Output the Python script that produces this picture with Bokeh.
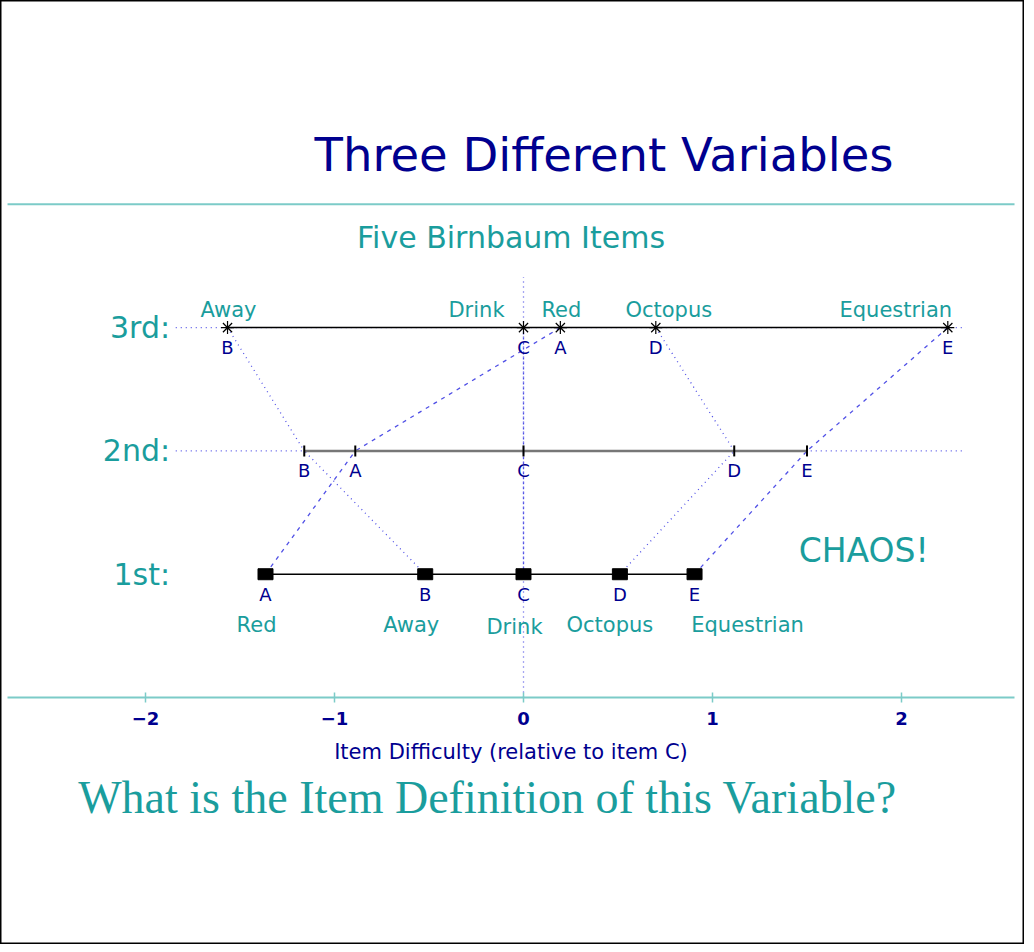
from bokeh.plotting import figure
from bokeh.models import Range1d, LinearAxis, FixedTicker, Label, ColumnDataSource
from bokeh.core.properties import value
from bokeh.embed import file_html
from bokeh.resources import INLINE

# ---------------- data ----------------
items = ["A", "B", "C", "D", "E"]
words = ["Red", "Away", "Drink", "Octopus", "Equestrian"]
first = [-1.365, -0.52, 0.0, 0.51, 0.905]
second = [-0.89, -1.16, 0.0, 1.115, 1.50]
third = [0.195, -1.566, 0.0, 0.70, 2.245]
row_names = ["1st:", "2nd:", "3rd:"]
row_levels = [1, 2, 3]
tick_values = [-2, -1, 0, 1, 2]
tick_labels = ["\u22122", "\u22121", "0", "1", "2"]

# ---------------- styles / layout ----------------
NAVY = "#00008f"
TEAL = "#1a9d9d"
RULE = "#7ccbc8"
BLUE = "#5050e6"
SANS = "DejaVu Sans"
SERIF = "Liberation Serif"
dash_style = {"A": "4 5", "B": "1 4", "C": "2 3", "D": "1 4", "E": "4 5"}
word_dx_third = [1, 1, -47, 13, -52]
word_dx_first = [-9, -14, -9, -10, 53]
word_dy_first = [51, 51, 53, 51, 51]
RULE_X = (-2.73, 2.598)
EXT_X = (-1.84, 2.34)

p = figure(width=1024, height=944, output_backend="svg", toolbar_location=None,
           x_range=Range1d(-2.7672, 2.6508), y_range=Range1d(-2.003, 5.653),
           x_axis_location=None, y_axis_location=None, min_border=0)
p.grid.grid_line_color = None
p.outline_line_color = "black"
p.outline_line_width = 2
p.background_fill_color = "white"
p.border_fill_color = "white"

# top rule
p.segment(x0=[RULE_X[0]], y0=[4], x1=[RULE_X[1]], y1=[4], line_color=RULE, line_width=2)

# dotted extensions of rows 2 and 3
p.segment(x0=[EXT_X[0], EXT_X[0]], y0=[2, 3], x1=[EXT_X[1], EXT_X[1]], y1=[2, 3],
          line_color=BLUE, line_width=1.3, line_dash="1 4")

# vertical reference line at item C
p.segment(x0=[0], y0=[0], x1=[0], y1=[3.41], line_color=BLUE, line_width=1.3, line_dash="1 4")

# connecting lines
for i, it in enumerate(items):
    p.segment(x0=[third[i]], y0=[3], x1=[second[i]], y1=[2],
              line_color=BLUE, line_width=1.3, line_dash=dash_style[it])
    p.segment(x0=[first[i]], y0=[1], x1=[second[i]], y1=[2],
              line_color=BLUE, line_width=1.3, line_dash=dash_style[it])

# row lines
p.line(x=sorted(third), y=[3] * 5, line_color="black", line_width=1.5)
p.line(x=sorted(second), y=[2] * 5, line_color="#777777", line_width=2.5)
p.line(x=sorted(first), y=[1] * 5, line_color="black", line_width=1.5)

# markers
p.scatter(x=third, y=[3] * 5, marker="asterisk", size=13, line_color="black", line_width=1.2)
p.scatter(x=second, y=[2] * 5, marker="dash", angle=1.5708, size=11, line_color="black", line_width=2)
p.rect(x=first, y=[1] * 5, width=15, height=11, width_units="screen", height_units="screen",
       fill_color="black", line_color="black")

# item letters
for vals, lev in ((third, 3), (second, 2), (first, 1)):
    p.text(x=vals, y=[lev] * 5, text=items, y_offset=20, text_align="center",
           text_baseline="middle", text_color=NAVY, text_font=value(SANS), text_font_size="18px")

# word labels
src3 = ColumnDataSource(dict(x=third, y=[3] * 5, t=words, dx=word_dx_third, dy=[-18] * 5))
p.text(x="x", y="y", text="t", x_offset="dx", y_offset="dy", source=src3, text_align="center",
       text_baseline="middle", text_color=TEAL, text_font=value(SANS), text_font_size="21px")
src1 = ColumnDataSource(dict(x=first, y=[1] * 5, t=words, dx=word_dx_first, dy=word_dy_first))
p.text(x="x", y="y", text="t", x_offset="dx", y_offset="dy", source=src1, text_align="center",
       text_baseline="middle", text_color=TEAL, text_font=value(SANS), text_font_size="21px")

# row names
for name, lev in zip(row_names, row_levels):
    p.add_layout(Label(x=-1.87, y=lev, text=name, text_align="right", text_baseline="middle",
                       text_color=TEAL, text_font=SANS, text_font_size="30px"))

# titles / annotations
p.add_layout(Label(x=0.426, y=4.4, text="Three Different Variables", text_align="center",
                   text_baseline="middle", text_color=NAVY, text_font=SANS, text_font_size="46.5px"))
p.add_layout(Label(x=-0.066, y=3.73, text="Five Birnbaum Items", text_align="center",
                   text_baseline="middle", text_color=TEAL, text_font=SANS, text_font_size="30px"))
p.add_layout(Label(x=1.80, y=1.19, text="CHAOS!", text_align="center",
                   text_baseline="middle", text_color=TEAL, text_font=SANS, text_font_size="33px"))
p.add_layout(Label(x=-0.19, y=-0.81, text="What is the Item Definition of this Variable?",
                   text_align="center", text_baseline="middle", text_color=TEAL,
                   text_font=SERIF, text_font_size="46px"))

# axis
ax = LinearAxis(fixed_location=0, bounds=RULE_X, ticker=FixedTicker(ticks=tick_values),
                axis_label="Item Difficulty (relative to item C)")
ax.major_label_overrides = {v: l for v, l in zip(tick_values, tick_labels)}
ax.axis_line_color = RULE
ax.axis_line_width = 2
ax.major_tick_line_color = RULE
ax.major_tick_line_width = 1.5
ax.major_tick_in = 5
ax.major_tick_out = 5
ax.minor_tick_line_color = None
ax.major_label_text_color = NAVY
ax.major_label_text_font = SANS
ax.major_label_text_font_size = "18px"
ax.major_label_text_font_style = "bold"
ax.major_label_standoff = 9
ax.axis_label_text_color = NAVY
ax.axis_label_text_font = SANS
ax.axis_label_text_font_size = "21px"
ax.axis_label_text_font_style = "normal"
ax.axis_label_standoff = 12
p.add_layout(ax, "below")

open("out.html", "w").write(file_html(p, INLINE))
